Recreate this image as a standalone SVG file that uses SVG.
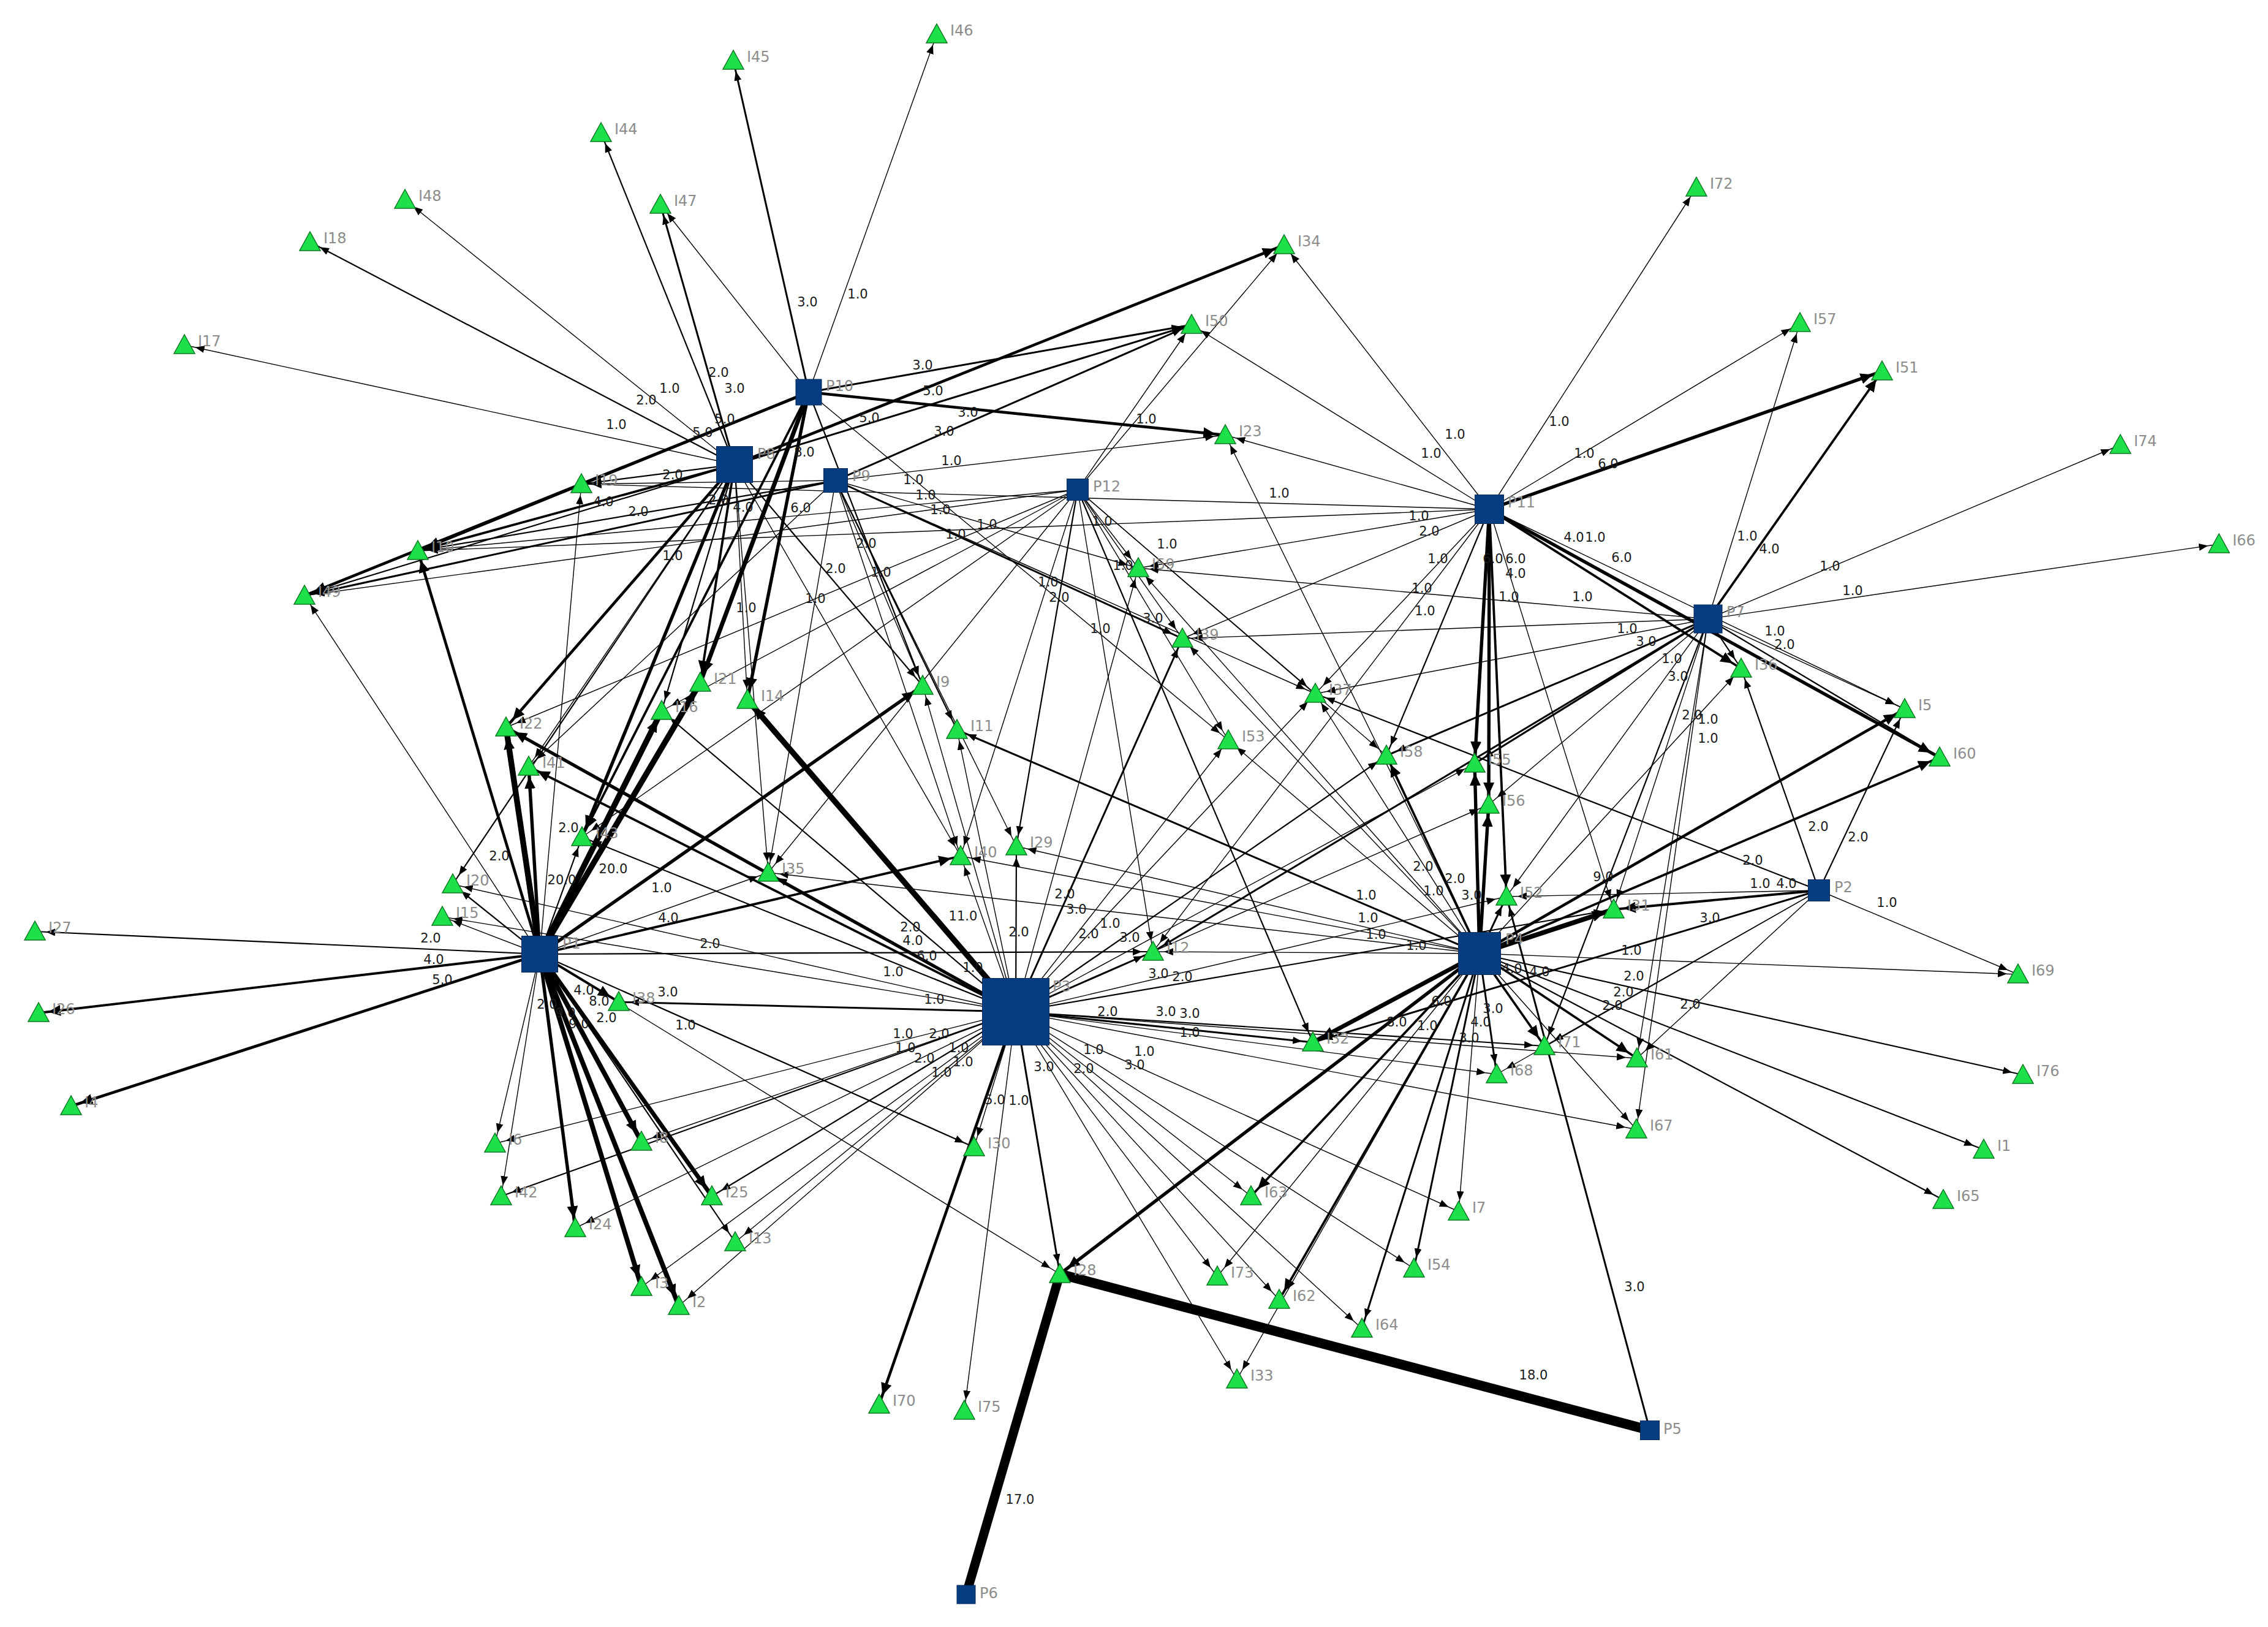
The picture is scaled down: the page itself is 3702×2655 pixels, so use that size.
<svg xmlns="http://www.w3.org/2000/svg" xmlns:xlink="http://www.w3.org/1999/xlink" width="3702" height="2655" viewBox="0 0 3702 2655">
<style>
line{stroke:#000;fill:none}
.e1{stroke-width:1.4;marker-end:url(#a)}
.e2{stroke-width:2.2;marker-end:url(#a)}
.e3{stroke-width:3;marker-end:url(#a)}
.e4{stroke-width:3.8;marker-end:url(#b)}
.e5{stroke-width:4.6;marker-end:url(#b)}
.e6{stroke-width:5.4;marker-end:url(#b)}
.e8{stroke-width:7;marker-end:url(#b)}
.e9{stroke-width:7.8;marker-end:url(#b)}
.e11{stroke-width:9.4;marker-end:url(#b)}
.e17{stroke-width:15}
.e18{stroke-width:16}
.l{font-family:"DejaVu Sans",sans-serif;font-size:21px;fill:#1a1a1a;text-anchor:middle}
.n text{font-family:"DejaVu Sans",sans-serif;font-size:24px;fill:#8c8c8c}
.tri{fill:#1de04a;stroke:#0c7a22;stroke-width:1.5}
.sq{fill:#053d80;stroke:#04295a;stroke-width:1}
</style>
<defs>
<marker id="a" markerUnits="userSpaceOnUse" markerWidth="36" markerHeight="12" refX="33" refY="6" orient="auto"><path d="M0,0 L15,6 L0,12 z" fill="#000"/></marker>
<marker id="b" markerUnits="userSpaceOnUse" markerWidth="40" markerHeight="18" refX="36" refY="9" orient="auto"><path d="M0,0 L20,9 L0,18 z" fill="#000"/></marker>
<polygon id="tri" class="tri" points="0,-17 17,14 -17,14"/>
</defs>
<rect width="3702" height="2655" fill="#fff"/>
<g id="connectors">
<!-- P10 -->
<line class="e3" x1="1320" y1="640" x2="1197" y2="99"/>
<line class="e1" x1="1320" y1="640" x2="1529" y2="56"/>
<line class="e3" x1="1320" y1="640" x2="1945" y2="530"/>
<line class="e5" x1="1320" y1="640" x2="2000" y2="710"/>
<line class="e5" x1="1320" y1="640" x2="682" y2="899"/>
<line class="e5" x1="1320" y1="640" x2="497" y2="972"/>
<line class="e1" x1="1320" y1="640" x2="1078" y2="334"/>
<line class="e8" x1="1320" y1="640" x2="1143" y2="1114"/>
<line class="e6" x1="1320" y1="640" x2="1220" y2="1142"/>
<line class="e1" x1="1320" y1="640" x2="2005" y2="1208"/>
<line class="e4" x1="1320" y1="640" x2="950" y2="1366"/>
<line class="e2" x1="1320" y1="640" x2="1506" y2="1119"/>
<!-- P8 -->
<line class="e1" x1="1199" y1="758" x2="301" y2="563"/>
<line class="e2" x1="1199" y1="758" x2="506" y2="395"/>
<line class="e1" x1="1199" y1="758" x2="661" y2="326"/>
<line class="e2" x1="1199" y1="758" x2="981" y2="217"/>
<line class="e3" x1="1199" y1="758" x2="1078" y2="334"/>
<line class="e5" x1="1199" y1="758" x2="2096" y2="400"/>
<line class="e3" x1="1199" y1="758" x2="1945" y2="530"/>
<line class="e2" x1="1199" y1="758" x2="949" y2="790"/>
<line class="e4" x1="1199" y1="758" x2="682" y2="899"/>
<line class="e2" x1="1199" y1="758" x2="497" y2="972"/>
<line class="e4" x1="1199" y1="758" x2="1143" y2="1114"/>
<line class="e2" x1="1199" y1="758" x2="1080" y2="1160"/>
<line class="e5" x1="1199" y1="758" x2="826" y2="1187"/>
<line class="e1" x1="1199" y1="758" x2="863" y2="1251"/>
<line class="e6" x1="1199" y1="758" x2="950" y2="1366"/>
<line class="e1" x1="1199" y1="758" x2="1254" y2="1424"/>
<line class="e2" x1="1199" y1="758" x2="1506" y2="1119"/>
<line class="e1" x1="1199" y1="758" x2="1568" y2="1397"/>
<line class="e2" x1="1199" y1="758" x2="739" y2="1443"/>
<line class="e1" x1="1199" y1="758" x2="1220" y2="1142"/>
<!-- P9 -->
<line class="e1" x1="1364" y1="784" x2="2000" y2="710"/>
<line class="e3" x1="1364" y1="784" x2="1945" y2="530"/>
<line class="e3" x1="1364" y1="784" x2="1930" y2="1042"/>
<line class="e2" x1="1364" y1="784" x2="1562" y2="1191"/>
<line class="e1" x1="1364" y1="784" x2="1659" y2="1381"/>
<line class="e1" x1="1364" y1="784" x2="1568" y2="1397"/>
<line class="e1" x1="1364" y1="784" x2="1254" y2="1424"/>
<line class="e2" x1="1364" y1="784" x2="682" y2="899"/>
<line class="e3" x1="1364" y1="784" x2="497" y2="972"/>
<line class="e1" x1="1364" y1="784" x2="2147" y2="1132"/>
<line class="e1" x1="1364" y1="784" x2="1858" y2="927"/>
<line class="e1" x1="1364" y1="784" x2="863" y2="1251"/>
<line class="e1" x1="1364" y1="784" x2="1506" y2="1119"/>
<line class="e1" x1="1364" y1="784" x2="949" y2="790"/>
<!-- P12 -->
<line class="e1" x1="1759" y1="799" x2="2096" y2="400"/>
<line class="e1" x1="1759" y1="799" x2="1945" y2="530"/>
<line class="e1" x1="1759" y1="799" x2="682" y2="899"/>
<line class="e1" x1="1759" y1="799" x2="497" y2="972"/>
<line class="e1" x1="1759" y1="799" x2="1568" y2="1397"/>
<line class="e1" x1="1759" y1="799" x2="1254" y2="1424"/>
<line class="e1" x1="1759" y1="799" x2="1080" y2="1160"/>
<line class="e2" x1="1759" y1="799" x2="1659" y2="1381"/>
<line class="e1" x1="1759" y1="799" x2="1882" y2="1553"/>
<line class="e1" x1="1759" y1="799" x2="1858" y2="927"/>
<line class="e1" x1="1759" y1="799" x2="1930" y2="1042"/>
<line class="e1" x1="1759" y1="799" x2="2005" y2="1208"/>
<line class="e1" x1="1759" y1="799" x2="2147" y2="1132"/>
<line class="e1" x1="1759" y1="799" x2="2263" y2="1233"/>
<line class="e2" x1="1759" y1="799" x2="2143" y2="1701"/>
<line class="e1" x1="1759" y1="799" x2="950" y2="1366"/>
<line class="e1" x1="1759" y1="799" x2="826" y2="1187"/>
<!-- P11 -->
<line class="e1" x1="2431" y1="831" x2="2769" y2="306"/>
<line class="e1" x1="2431" y1="831" x2="2938" y2="527"/>
<line class="e6" x1="2431" y1="831" x2="3072" y2="606"/>
<line class="e1" x1="2431" y1="831" x2="2096" y2="400"/>
<line class="e1" x1="2431" y1="831" x2="1945" y2="530"/>
<line class="e1" x1="2431" y1="831" x2="949" y2="790"/>
<line class="e1" x1="2431" y1="831" x2="682" y2="899"/>
<line class="e6" x1="2431" y1="831" x2="2407" y2="1246"/>
<line class="e6" x1="2431" y1="831" x2="2430" y2="1313"/>
<line class="e4" x1="2431" y1="831" x2="2459" y2="1463"/>
<line class="e2" x1="2431" y1="831" x2="2263" y2="1233"/>
<line class="e1" x1="2431" y1="831" x2="2147" y2="1132"/>
<line class="e1" x1="2431" y1="831" x2="1858" y2="927"/>
<line class="e1" x1="2431" y1="831" x2="1930" y2="1042"/>
<line class="e4" x1="2431" y1="831" x2="2842" y2="1091"/>
<line class="e1" x1="2431" y1="831" x2="3109" y2="1157"/>
<line class="e6" x1="2431" y1="831" x2="3166" y2="1236"/>
<line class="e1" x1="2431" y1="831" x2="1882" y2="1553"/>
<line class="e1" x1="2431" y1="831" x2="2634" y2="1484"/>
<line class="e1" x1="2431" y1="831" x2="2000" y2="710"/>
<!-- P7 -->
<line class="e1" x1="2788" y1="1010" x2="2938" y2="527"/>
<line class="e4" x1="2788" y1="1010" x2="3072" y2="606"/>
<line class="e1" x1="2788" y1="1010" x2="3461" y2="726"/>
<line class="e1" x1="2788" y1="1010" x2="3622" y2="888"/>
<line class="e2" x1="2788" y1="1010" x2="2842" y2="1091"/>
<line class="e1" x1="2788" y1="1010" x2="3109" y2="1157"/>
<line class="e2" x1="2788" y1="1010" x2="3166" y2="1236"/>
<line class="e3" x1="2788" y1="1010" x2="1882" y2="1553"/>
<line class="e3" x1="2788" y1="1010" x2="2263" y2="1233"/>
<line class="e1" x1="2788" y1="1010" x2="2459" y2="1463"/>
<line class="e1" x1="2788" y1="1010" x2="2634" y2="1484"/>
<line class="e1" x1="2788" y1="1010" x2="2672" y2="1727"/>
<line class="e1" x1="2788" y1="1010" x2="2671" y2="1843"/>
<line class="e2" x1="2788" y1="1010" x2="2521" y2="1707"/>
<line class="e1" x1="2788" y1="1010" x2="2147" y2="1132"/>
<line class="e1" x1="2788" y1="1010" x2="1858" y2="927"/>
<line class="e1" x1="2788" y1="1010" x2="2430" y2="1313"/>
<line class="e3" x1="2788" y1="1010" x2="2407" y2="1246"/>
<line class="e1" x1="2788" y1="1010" x2="1930" y2="1042"/>
<!-- P2 -->
<line class="e2" x1="2969" y1="1453" x2="3109" y2="1157"/>
<line class="e2" x1="2969" y1="1453" x2="2842" y2="1091"/>
<line class="e1" x1="2969" y1="1453" x2="3294" y2="1590"/>
<line class="e2" x1="2969" y1="1453" x2="2147" y2="1132"/>
<line class="e4" x1="2969" y1="1453" x2="2634" y2="1484"/>
<line class="e1" x1="2969" y1="1453" x2="2459" y2="1463"/>
<line class="e3" x1="2969" y1="1453" x2="2143" y2="1701"/>
<line class="e1" x1="2969" y1="1453" x2="2672" y2="1727"/>
<line class="e1" x1="2969" y1="1453" x2="2521" y2="1707"/>
<line class="e1" x1="2969" y1="1453" x2="2443" y2="1753"/>
<!-- P4 -->
<line class="e6" x1="2415" y1="1556" x2="2407" y2="1246"/>
<line class="e6" x1="2415" y1="1556" x2="2430" y2="1313"/>
<line class="e3" x1="2415" y1="1556" x2="2459" y2="1463"/>
<line class="e4" x1="2415" y1="1556" x2="2263" y2="1233"/>
<line class="e1" x1="2415" y1="1556" x2="2147" y2="1132"/>
<line class="e1" x1="2415" y1="1556" x2="2005" y2="1208"/>
<line class="e1" x1="2415" y1="1556" x2="1930" y2="1042"/>
<line class="e1" x1="2415" y1="1556" x2="1858" y2="927"/>
<line class="e1" x1="2415" y1="1556" x2="2000" y2="710"/>
<line class="e3" x1="2415" y1="1556" x2="1562" y2="1191"/>
<line class="e1" x1="2415" y1="1556" x2="1568" y2="1397"/>
<line class="e1" x1="2415" y1="1556" x2="1659" y2="1381"/>
<line class="e1" x1="2415" y1="1556" x2="1882" y2="1553"/>
<line class="e1" x1="2415" y1="1556" x2="1254" y2="1424"/>
<line class="e8" x1="2415" y1="1556" x2="2143" y2="1701"/>
<line class="e6" x1="2415" y1="1556" x2="1730" y2="2079"/>
<line class="e4" x1="2415" y1="1556" x2="2042" y2="1952"/>
<line class="e4" x1="2415" y1="1556" x2="2088" y2="2121"/>
<line class="e3" x1="2415" y1="1556" x2="2308" y2="2070"/>
<line class="e3" x1="2415" y1="1556" x2="2223" y2="2168"/>
<line class="e1" x1="2415" y1="1556" x2="2381" y2="1977"/>
<line class="e1" x1="2415" y1="1556" x2="1987" y2="2083"/>
<line class="e1" x1="2415" y1="1556" x2="2019" y2="2251"/>
<line class="e3" x1="2415" y1="1556" x2="2443" y2="1753"/>
<line class="e4" x1="2415" y1="1556" x2="2521" y2="1707"/>
<line class="e4" x1="2415" y1="1556" x2="2672" y2="1727"/>
<line class="e1" x1="2415" y1="1556" x2="2671" y2="1843"/>
<line class="e9" x1="2415" y1="1556" x2="2634" y2="1484"/>
<line class="e1" x1="2415" y1="1556" x2="3294" y2="1590"/>
<line class="e2" x1="2415" y1="1556" x2="3302" y2="1754"/>
<line class="e2" x1="2415" y1="1556" x2="3238" y2="1876"/>
<line class="e2" x1="2415" y1="1556" x2="3172" y2="1958"/>
<line class="e5" x1="2415" y1="1556" x2="3109" y2="1157"/>
<line class="e4" x1="2415" y1="1556" x2="3166" y2="1236"/>
<line class="e1" x1="2415" y1="1556" x2="2842" y2="1091"/>
<!-- P3 -->
<line class="e11" x1="1658" y1="1651" x2="1220" y2="1142"/>
<line class="e1" x1="1658" y1="1651" x2="1568" y2="1397"/>
<line class="e2" x1="1658" y1="1651" x2="1659" y2="1381"/>
<line class="e1" x1="1658" y1="1651" x2="1562" y2="1191"/>
<line class="e1" x1="1658" y1="1651" x2="1506" y2="1119"/>
<line class="e3" x1="1658" y1="1651" x2="1930" y2="1042"/>
<line class="e1" x1="1658" y1="1651" x2="1858" y2="927"/>
<line class="e1" x1="1658" y1="1651" x2="2005" y2="1208"/>
<line class="e1" x1="1658" y1="1651" x2="2147" y2="1132"/>
<line class="e2" x1="1658" y1="1651" x2="2263" y2="1233"/>
<line class="e1" x1="1658" y1="1651" x2="2407" y2="1246"/>
<line class="e1" x1="1658" y1="1651" x2="2430" y2="1313"/>
<line class="e3" x1="1658" y1="1651" x2="1882" y2="1553"/>
<line class="e2" x1="1658" y1="1651" x2="1080" y2="1160"/>
<line class="e6" x1="1658" y1="1651" x2="826" y2="1187"/>
<line class="e4" x1="1658" y1="1651" x2="863" y2="1251"/>
<line class="e2" x1="1658" y1="1651" x2="950" y2="1366"/>
<line class="e1" x1="1658" y1="1651" x2="1254" y2="1424"/>
<line class="e1" x1="1658" y1="1651" x2="739" y2="1443"/>
<line class="e1" x1="1658" y1="1651" x2="722" y2="1496"/>
<line class="e3" x1="1658" y1="1651" x2="1010" y2="1635"/>
<line class="e1" x1="1658" y1="1651" x2="808" y2="1866"/>
<line class="e2" x1="1658" y1="1651" x2="818" y2="1952"/>
<line class="e1" x1="1658" y1="1651" x2="939" y2="2004"/>
<line class="e1" x1="1658" y1="1651" x2="1047" y2="1863"/>
<line class="e2" x1="1658" y1="1651" x2="1162" y2="1952"/>
<line class="e1" x1="1658" y1="1651" x2="1200" y2="2027"/>
<line class="e1" x1="1658" y1="1651" x2="1047" y2="2100"/>
<line class="e1" x1="1658" y1="1651" x2="1108" y2="2131"/>
<line class="e5" x1="1658" y1="1651" x2="1435" y2="2292"/>
<line class="e1" x1="1658" y1="1651" x2="1590" y2="1872"/>
<line class="e1" x1="1658" y1="1651" x2="1574" y2="2302"/>
<line class="e3" x1="1658" y1="1651" x2="1730" y2="2079"/>
<line class="e1" x1="1658" y1="1651" x2="2019" y2="2251"/>
<line class="e1" x1="1658" y1="1651" x2="1987" y2="2083"/>
<line class="e1" x1="1658" y1="1651" x2="2088" y2="2121"/>
<line class="e1" x1="1658" y1="1651" x2="2042" y2="1952"/>
<line class="e1" x1="1658" y1="1651" x2="2223" y2="2168"/>
<line class="e1" x1="1658" y1="1651" x2="2381" y2="1977"/>
<line class="e1" x1="1658" y1="1651" x2="2308" y2="2070"/>
<line class="e3" x1="1658" y1="1651" x2="2143" y2="1701"/>
<line class="e1" x1="1658" y1="1651" x2="2443" y2="1753"/>
<line class="e2" x1="1658" y1="1651" x2="2521" y2="1707"/>
<line class="e1" x1="1658" y1="1651" x2="2672" y2="1727"/>
<line class="e1" x1="1658" y1="1651" x2="2671" y2="1843"/>
<line class="e2" x1="1658" y1="1651" x2="2634" y2="1484"/>
<line class="e1" x1="1658" y1="1651" x2="2459" y2="1463"/>
<!-- P1 -->
<line class="e2" x1="881" y1="1557" x2="57" y2="1520"/>
<line class="e4" x1="881" y1="1557" x2="63" y2="1653"/>
<line class="e5" x1="881" y1="1557" x2="116" y2="1805"/>
<line class="e1" x1="881" y1="1557" x2="497" y2="972"/>
<line class="e5" x1="881" y1="1557" x2="682" y2="899"/>
<line class="e11" x1="881" y1="1557" x2="826" y2="1187"/>
<line class="e6" x1="881" y1="1557" x2="863" y2="1251"/>
<line class="e2" x1="881" y1="1557" x2="739" y2="1443"/>
<line class="e1" x1="881" y1="1557" x2="722" y2="1496"/>
<line class="e2" x1="881" y1="1557" x2="950" y2="1366"/>
<line class="e1" x1="881" y1="1557" x2="949" y2="790"/>
<line class="e11" x1="881" y1="1557" x2="1080" y2="1160"/>
<line class="e11" x1="881" y1="1557" x2="1143" y2="1114"/>
<line class="e6" x1="881" y1="1557" x2="1506" y2="1119"/>
<line class="e4" x1="881" y1="1557" x2="1568" y2="1397"/>
<line class="e2" x1="881" y1="1557" x2="1882" y2="1553"/>
<line class="e2" x1="881" y1="1557" x2="1590" y2="1872"/>
<line class="e1" x1="881" y1="1557" x2="1730" y2="2079"/>
<line class="e4" x1="881" y1="1557" x2="1010" y2="1635"/>
<line class="e8" x1="881" y1="1557" x2="1162" y2="1952"/>
<line class="e2" x1="881" y1="1557" x2="1200" y2="2027"/>
<line class="e9" x1="881" y1="1557" x2="1047" y2="1863"/>
<line class="e9" x1="881" y1="1557" x2="1047" y2="2100"/>
<line class="e9" x1="881" y1="1557" x2="1108" y2="2131"/>
<line class="e6" x1="881" y1="1557" x2="939" y2="2004"/>
<line class="e1" x1="881" y1="1557" x2="818" y2="1952"/>
<line class="e1" x1="881" y1="1557" x2="808" y2="1866"/>
<line class="e1" x1="881" y1="1557" x2="1254" y2="1424"/>
<!-- P5, P6 -->
<line class="e18" x1="2693" y1="2334" x2="1730" y2="2079"/>
<line class="e3" x1="2693" y1="2334" x2="2459" y2="1463"/>
<line class="e17" x1="1577" y1="2602" x2="1730" y2="2079"/>
</g>
<g id="edge-labels" class="l">
<text x="1318" y="500">3.0</text><text x="1400" y="487">1.0</text><text x="1506" y="603">3.0</text><text x="1523" y="645">5.0</text>
<text x="1183" y="691">5.0</text><text x="1147" y="713">5.0</text><text x="1313" y="745">8.0</text><text x="1307" y="836">6.0</text>
<text x="1491" y="790">1.0</text><text x="1006" y="700">1.0</text><text x="1055" y="660">2.0</text><text x="1093" y="641">1.0</text>
<text x="1173" y="615">2.0</text><text x="1199" y="641">3.0</text><text x="1419" y="689">5.0</text><text x="1580" y="680">3.0</text>
<text x="1098" y="782">2.0</text><text x="985" y="826">4.0</text><text x="1042" y="842">2.0</text><text x="1213" y="835">4.0</text>
<text x="1173" y="823">2.0</text><text x="1098" y="914">1.0</text><text x="1218" y="999">1.0</text><text x="1364" y="935">2.0</text>
<text x="815" y="1404">2.0</text><text x="1553" y="759">1.0</text><text x="1541" y="711">3.0</text><text x="1882" y="1016">3.0</text>
<text x="1414" y="894">2.0</text><text x="1438" y="941">1.0</text><text x="1331" y="984">1.0</text><text x="1560" y="879">1.0</text>
<text x="1611" y="863">1.0</text><text x="1871" y="691">1.0</text><text x="1511" y="815">1.0</text><text x="1535" y="839">1.0</text>
<text x="1711" y="957">1.0</text><text x="1729" y="982">2.0</text><text x="1796" y="1033">1.0</text><text x="1799" y="858">1.0</text>
<text x="1833" y="930">1.0</text><text x="1905" y="895">1.0</text>
<text x="2545" y="695">1.0</text><text x="2586" y="747">1.0</text><text x="2625" y="764">6.0</text><text x="2375" y="716">1.0</text>
<text x="2336" y="747">1.0</text><text x="2088" y="812">1.0</text><text x="2316" y="849">1.0</text><text x="2437" y="919">6.0</text>
<text x="2474" y="919">6.0</text><text x="2474" y="943">4.0</text><text x="2333" y="874">2.0</text><text x="2347" y="919">1.0</text>
<text x="2326" y="1004">1.0</text><text x="2569" y="884">4.0</text><text x="2604" y="884">1.0</text><text x="2647" y="917">6.0</text>
<text x="2321" y="967">1.0</text><text x="2463" y="981">1.0</text>
<text x="2852" y="882">1.0</text><text x="2888" y="903">4.0</text><text x="2987" y="931">1.0</text><text x="3024" y="971">1.0</text>
<text x="2897" y="1037">1.0</text><text x="2913" y="1059">2.0</text><text x="2687" y="1054">3.0</text><text x="2739" y="1111">3.0</text>
<text x="2729" y="1082">1.0</text><text x="2788" y="1181">1.0</text><text x="2788" y="1212">1.0</text><text x="2762" y="1174">2.0</text>
<text x="2656" y="1033">1.0</text><text x="2583" y="981">1.0</text>
<text x="3033" y="1373">2.0</text><text x="2968" y="1356">2.0</text><text x="3080" y="1480">1.0</text><text x="2861" y="1411">2.0</text>
<text x="2916" y="1449">4.0</text><text x="2873" y="1449">1.0</text><text x="2791" y="1505">3.0</text><text x="2759" y="1646">2.0</text>
<text x="2402" y="1468">3.0</text><text x="2375" y="1441">2.0</text><text x="2340" y="1461">1.0</text><text x="2323" y="1421">2.0</text>
<text x="2230" y="1468">1.0</text><text x="2246" y="1532">1.0</text><text x="2233" y="1505">1.0</text><text x="2312" y="1550">1.0</text>
<text x="2280" y="1675">8.0</text><text x="2353" y="1641">6.0</text><text x="2417" y="1675">4.0</text><text x="2437" y="1653">3.0</text>
<text x="2330" y="1681">1.0</text><text x="2398" y="1701">3.0</text><text x="2468" y="1588">4.0</text><text x="2513" y="1593">4.0</text>
<text x="2632" y="1648">2.0</text><text x="2617" y="1438">9.0</text><text x="2663" y="1558">1.0</text><text x="2667" y="1600">2.0</text>
<text x="2650" y="1626">2.0</text>
<text x="1572" y="1502">11.0</text><text x="1588" y="1586">1.0</text><text x="1663" y="1528">2.0</text><text x="1757" y="1491">3.0</text>
<text x="1738" y="1466">2.0</text><text x="1812" y="1514">1.0</text><text x="1777" y="1531">2.0</text><text x="1844" y="1537">3.0</text>
<text x="1513" y="1567">6.0</text><text x="1490" y="1542">4.0</text><text x="1486" y="1520">2.0</text><text x="1458" y="1593">1.0</text>
<text x="1525" y="1638">1.0</text><text x="1090" y="1626">3.0</text><text x="1474" y="1694">1.0</text><text x="1533" y="1694">2.0</text>
<text x="1478" y="1717">1.0</text><text x="1565" y="1717">1.0</text><text x="1509" y="1734">2.0</text><text x="1572" y="1740">1.0</text>
<text x="1537" y="1757">1.0</text><text x="1624" y="1802">5.0</text><text x="1663" y="1803">1.0</text><text x="1704" y="1748">3.0</text>
<text x="1769" y="1751">2.0</text><text x="1852" y="1745">3.0</text><text x="1785" y="1720">1.0</text><text x="1868" y="1723">1.0</text>
<text x="1808" y="1658">2.0</text><text x="1903" y="1658">3.0</text><text x="1942" y="1661">3.0</text><text x="1942" y="1692">1.0</text>
<text x="1930" y="1601">2.0</text><text x="1891" y="1596">3.0</text>
<text x="703" y="1538">2.0</text><text x="708" y="1573">4.0</text><text x="722" y="1606">5.0</text><text x="928" y="1358">2.0</text>
<text x="1001" y="1425">20.0</text><text x="917" y="1443">20.0</text><text x="1091" y="1505">4.0</text><text x="1159" y="1547">2.0</text>
<text x="1119" y="1680">1.0</text><text x="953" y="1623">4.0</text><text x="978" y="1641">8.0</text><text x="990" y="1668">2.0</text>
<text x="923" y="1660">9.0</text><text x="945" y="1678">9.0</text><text x="893" y="1646">2.0</text><text x="1080" y="1456">1.0</text>
<text x="2503" y="2251">18.0</text><text x="2668" y="2107">3.0</text><text x="1665" y="2454">17.0</text>
</g>
<g id="nodes" class="n">
<g id="P1" transform="translate(881,1557)"><rect class="sq" x="-29.5" y="-29.5" width="59" height="59"/><text x="37" y="-9">P1</text></g>
<g id="P2" transform="translate(2969,1453)"><rect class="sq" x="-17.5" y="-17.5" width="35" height="35"/><text x="25" y="3">P2</text></g>
<g id="P3" transform="translate(1658,1651)"><rect class="sq" x="-54.5" y="-54.5" width="109" height="109"/><text x="60" y="-33">P3</text></g>
<g id="P4" transform="translate(2415,1556)"><rect class="sq" x="-34.5" y="-34.5" width="69" height="69"/><text x="42" y="-15">P4</text></g>
<g id="P5" transform="translate(2693,2334)"><rect class="sq" x="-15.5" y="-15.5" width="31" height="31"/><text x="22" y="6">P5</text></g>
<g id="P6" transform="translate(1577,2602)"><rect class="sq" x="-15" y="-15" width="30" height="30"/><text x="22" y="6">P6</text></g>
<g id="P7" transform="translate(2788,1010)"><rect class="sq" x="-23" y="-23" width="46" height="46"/><text x="30" y="-3">P7</text></g>
<g id="P8" transform="translate(1199,758)"><rect class="sq" x="-29.5" y="-29.5" width="59" height="59"/><text x="37" y="-9">P8</text></g>
<g id="P9" transform="translate(1364,784)"><rect class="sq" x="-19.5" y="-19.5" width="39" height="39"/><text x="27" y="1">P9</text></g>
<g id="P10" transform="translate(1320,640)"><rect class="sq" x="-21" y="-21" width="42" height="42"/><text x="28" y="-2">P10</text></g>
<g id="P11" transform="translate(2431,831)"><rect class="sq" x="-23.5" y="-23.5" width="47" height="47"/><text x="30" y="-3">P11</text></g>
<g id="P12" transform="translate(1759,799)"><rect class="sq" x="-17.5" y="-17.5" width="35" height="35"/><text x="25" y="3">P12</text></g>
<g id="I1" transform="translate(3238,1876)"><use href="#tri"/><text x="22" y="2">I1</text></g>
<g id="I2" transform="translate(1108,2131)"><use href="#tri"/><text x="22" y="2">I2</text></g>
<g id="I3" transform="translate(1047,2100)"><use href="#tri"/><text x="22" y="2">I3</text></g>
<g id="I4" transform="translate(116,1805)"><use href="#tri"/><text x="22" y="2">I4</text></g>
<g id="I5" transform="translate(3109,1157)"><use href="#tri"/><text x="22" y="2">I5</text></g>
<g id="I6" transform="translate(808,1866)"><use href="#tri"/><text x="22" y="2">I6</text></g>
<g id="I7" transform="translate(2381,1977)"><use href="#tri"/><text x="22" y="2">I7</text></g>
<g id="I8" transform="translate(1047,1863)"><use href="#tri"/><text x="22" y="2">I8</text></g>
<g id="I9" transform="translate(1506,1119)"><use href="#tri"/><text x="22" y="2">I9</text></g>
<g id="I10" transform="translate(682,899)"><use href="#tri"/><text x="22" y="2">I10</text></g>
<g id="I11" transform="translate(1562,1191)"><use href="#tri"/><text x="22" y="2">I11</text></g>
<g id="I12" transform="translate(1882,1553)"><use href="#tri"/><text x="22" y="2">I12</text></g>
<g id="I13" transform="translate(1200,2027)"><use href="#tri"/><text x="22" y="2">I13</text></g>
<g id="I14" transform="translate(1220,1142)"><use href="#tri"/><text x="22" y="2">I14</text></g>
<g id="I15" transform="translate(722,1496)"><use href="#tri"/><text x="22" y="2">I15</text></g>
<g id="I16" transform="translate(1080,1160)"><use href="#tri"/><text x="22" y="2">I16</text></g>
<g id="I17" transform="translate(301,563)"><use href="#tri"/><text x="22" y="2">I17</text></g>
<g id="I18" transform="translate(506,395)"><use href="#tri"/><text x="22" y="2">I18</text></g>
<g id="I19" transform="translate(949,790)"><use href="#tri"/><text x="22" y="2">I19</text></g>
<g id="I20" transform="translate(739,1443)"><use href="#tri"/><text x="22" y="2">I20</text></g>
<g id="I21" transform="translate(1143,1114)"><use href="#tri"/><text x="22" y="2">I21</text></g>
<g id="I22" transform="translate(826,1187)"><use href="#tri"/><text x="22" y="2">I22</text></g>
<g id="I23" transform="translate(2000,710)"><use href="#tri"/><text x="22" y="2">I23</text></g>
<g id="I24" transform="translate(939,2004)"><use href="#tri"/><text x="22" y="2">I24</text></g>
<g id="I25" transform="translate(1162,1952)"><use href="#tri"/><text x="22" y="2">I25</text></g>
<g id="I26" transform="translate(63,1653)"><use href="#tri"/><text x="22" y="2">I26</text></g>
<g id="I27" transform="translate(57,1520)"><use href="#tri"/><text x="22" y="2">I27</text></g>
<g id="I28" transform="translate(1730,2079)"><use href="#tri"/><text x="22" y="2">I28</text></g>
<g id="I29" transform="translate(1659,1381)"><use href="#tri"/><text x="22" y="2">I29</text></g>
<g id="I30" transform="translate(1590,1872)"><use href="#tri"/><text x="22" y="2">I30</text></g>
<g id="I31" transform="translate(2634,1484)"><use href="#tri"/><text x="22" y="2">I31</text></g>
<g id="I32" transform="translate(2143,1701)"><use href="#tri"/><text x="22" y="2">I32</text></g>
<g id="I33" transform="translate(2019,2251)"><use href="#tri"/><text x="22" y="2">I33</text></g>
<g id="I34" transform="translate(2096,400)"><use href="#tri"/><text x="22" y="2">I34</text></g>
<g id="I35" transform="translate(1254,1424)"><use href="#tri"/><text x="22" y="2">I35</text></g>
<g id="I36" transform="translate(2842,1091)"><use href="#tri"/><text x="22" y="2">I36</text></g>
<g id="I37" transform="translate(2147,1132)"><use href="#tri"/><text x="22" y="2">I37</text></g>
<g id="I38" transform="translate(1010,1635)"><use href="#tri"/><text x="22" y="2">I38</text></g>
<g id="I39" transform="translate(1930,1042)"><use href="#tri"/><text x="22" y="2">I39</text></g>
<g id="I40" transform="translate(1568,1397)"><use href="#tri"/><text x="22" y="2">I40</text></g>
<g id="I41" transform="translate(863,1251)"><use href="#tri"/><text x="22" y="2">I41</text></g>
<g id="I42" transform="translate(818,1952)"><use href="#tri"/><text x="22" y="2">I42</text></g>
<g id="I43" transform="translate(950,1366)"><use href="#tri"/><text x="22" y="2">I43</text></g>
<g id="I44" transform="translate(981,217)"><use href="#tri"/><text x="22" y="2">I44</text></g>
<g id="I45" transform="translate(1197,99)"><use href="#tri"/><text x="22" y="2">I45</text></g>
<g id="I46" transform="translate(1529,56)"><use href="#tri"/><text x="22" y="2">I46</text></g>
<g id="I47" transform="translate(1078,334)"><use href="#tri"/><text x="22" y="2">I47</text></g>
<g id="I48" transform="translate(661,326)"><use href="#tri"/><text x="22" y="2">I48</text></g>
<g id="I49" transform="translate(497,972)"><use href="#tri"/><text x="22" y="2">I49</text></g>
<g id="I50" transform="translate(1945,530)"><use href="#tri"/><text x="22" y="2">I50</text></g>
<g id="I51" transform="translate(3072,606)"><use href="#tri"/><text x="22" y="2">I51</text></g>
<g id="I52" transform="translate(2459,1463)"><use href="#tri"/><text x="22" y="2">I52</text></g>
<g id="I53" transform="translate(2005,1208)"><use href="#tri"/><text x="22" y="2">I53</text></g>
<g id="I54" transform="translate(2308,2070)"><use href="#tri"/><text x="22" y="2">I54</text></g>
<g id="I55" transform="translate(2407,1246)"><use href="#tri"/><text x="22" y="2">I55</text></g>
<g id="I56" transform="translate(2430,1313)"><use href="#tri"/><text x="22" y="2">I56</text></g>
<g id="I57" transform="translate(2938,527)"><use href="#tri"/><text x="22" y="2">I57</text></g>
<g id="I58" transform="translate(2263,1233)"><use href="#tri"/><text x="22" y="2">I58</text></g>
<g id="I59" transform="translate(1858,927)"><use href="#tri"/><text x="22" y="2">I59</text></g>
<g id="I60" transform="translate(3166,1236)"><use href="#tri"/><text x="22" y="2">I60</text></g>
<g id="I61" transform="translate(2672,1727)"><use href="#tri"/><text x="22" y="2">I61</text></g>
<g id="I62" transform="translate(2088,2121)"><use href="#tri"/><text x="22" y="2">I62</text></g>
<g id="I63" transform="translate(2042,1952)"><use href="#tri"/><text x="22" y="2">I63</text></g>
<g id="I64" transform="translate(2223,2168)"><use href="#tri"/><text x="22" y="2">I64</text></g>
<g id="I65" transform="translate(3172,1958)"><use href="#tri"/><text x="22" y="2">I65</text></g>
<g id="I66" transform="translate(3622,888)"><use href="#tri"/><text x="22" y="2">I66</text></g>
<g id="I67" transform="translate(2671,1843)"><use href="#tri"/><text x="22" y="2">I67</text></g>
<g id="I68" transform="translate(2443,1753)"><use href="#tri"/><text x="22" y="2">I68</text></g>
<g id="I69" transform="translate(3294,1590)"><use href="#tri"/><text x="22" y="2">I69</text></g>
<g id="I70" transform="translate(1435,2292)"><use href="#tri"/><text x="22" y="2">I70</text></g>
<g id="I71" transform="translate(2521,1707)"><use href="#tri"/><text x="22" y="2">I71</text></g>
<g id="I72" transform="translate(2769,306)"><use href="#tri"/><text x="22" y="2">I72</text></g>
<g id="I73" transform="translate(1987,2083)"><use href="#tri"/><text x="22" y="2">I73</text></g>
<g id="I74" transform="translate(3461,726)"><use href="#tri"/><text x="22" y="2">I74</text></g>
<g id="I75" transform="translate(1574,2302)"><use href="#tri"/><text x="22" y="2">I75</text></g>
<g id="I76" transform="translate(3302,1754)"><use href="#tri"/><text x="22" y="2">I76</text></g>
</g>
</svg>
